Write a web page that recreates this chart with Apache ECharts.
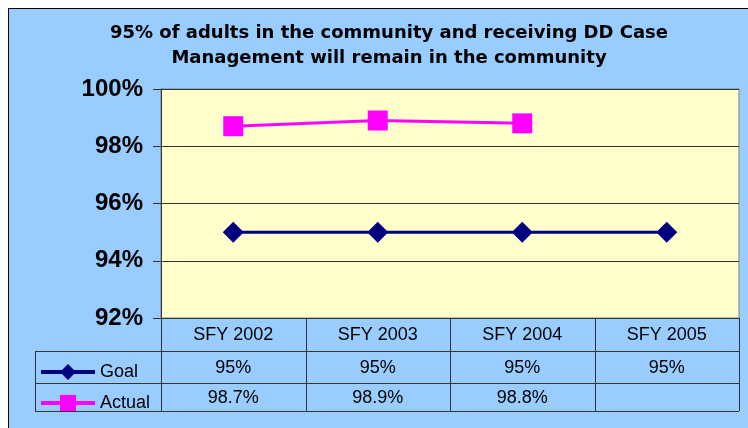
<!DOCTYPE html>
<html>
<head>
<meta charset="utf-8">
<script src="https://cdn.jsdelivr.net/npm/echarts@6/dist/echarts.min.js"></script>
<style>
  html, body { margin: 0; padding: 0; background: #fff; }
  #wrap { position: relative; width: 748px; height: 428px; overflow: hidden; }
  #bg { position: absolute; left: 8px; top: 8px; width: 760px; height: 440px;
        background: #99CCFF; border-left: 1px solid #000; border-top: 1px solid #000; }
  #main { position: absolute; left: 0; top: 0; width: 748px; height: 428px; }
</style>
</head>
<body>
<div id="wrap"><div id="bg"></div><div id="main"></div></div>
<script>
var chartDom = document.getElementById('main');
var myChart = echarts.init(chartDom);
var option;

const categories = ['SFY 2002', 'SFY 2003', 'SFY 2004', 'SFY 2005'];
const goal = [95, 95, 95, 95];
const actual = [98.7, 98.9, 98.8, null];
const yTicks = [92, 94, 96, 98, 100];

const font = 'Arial, "Liberation Sans", sans-serif';
const lineColor = '#333333';

// table rows below the plot
const rowLines = [351, 383, 411];
const tableLeft = 35;

option = {
  title: {
    text: '95% of adults in the community and receiving DD Case\nManagement will remain in the community',
    left: 384,
    textAlign: 'center',
    top: 16,
    textStyle: {
      fontFamily: '"DejaVu Sans", sans-serif',
      fontSize: 18,
      fontWeight: 'bold',
      color: '#000',
      lineHeight: 25
    }
  },
  legend: {
    orient: 'vertical',
    left: 39,
    top: 362,
    padding: 0,
    itemWidth: 54,
    itemHeight: 20,
    itemGap: 11,
    lineStyle: { width: 4 },
    textStyle: { fontFamily: font, fontSize: 18, lineHeight: 20, color: '#000' },
    data: ['Goal', 'Actual']
  },
  grid: {
    left: 161,
    top: 89,
    right: 9,
    bottom: 110,
    show: true,
    backgroundColor: '#FFFFCC',
    borderColor: '#808080',
    borderWidth: 1
  },
  xAxis: {
    type: 'category',
    data: categories,
    axisLine: { lineStyle: { color: lineColor, width: 1 } },
    axisTick: { show: false },
    axisLabel: { fontFamily: font, fontSize: 18, color: '#000', margin: 8 }
  },
  yAxis: {
    type: 'value',
    min: yTicks[0],
    max: yTicks[yTicks.length - 1],
    interval: 2,
    axisLine: { show: true, lineStyle: { color: lineColor, width: 1 } },
    axisTick: { show: true, length: 8, lineStyle: { color: lineColor } },
    axisLabel: {
      fontFamily: font, fontSize: 24, fontWeight: 'bold', color: '#000', margin: 18,
      formatter: '{value}%'
    },
    splitLine: { lineStyle: { color: lineColor, width: 1 } }
  },
  series: [
    {
      name: 'Goal',
      type: 'line',
      data: goal,
      symbol: 'diamond',
      symbolSize: 21,
      lineStyle: { color: '#000080', width: 3 },
      itemStyle: { color: '#000080' },
      animation: false
    },
    {
      name: 'Actual',
      type: 'line',
      data: actual,
      symbol: 'rect',
      symbolSize: 20,
      lineStyle: { color: '#FF00FF', width: 3 },
      itemStyle: { color: '#FF00FF' },
      animation: false
    }
  ]
};

option && myChart.setOption(option);

// data table drawn below the axis
const centers = categories.map(function (c) {
  return myChart.convertToPixel({ xAxisIndex: 0 }, c);
});
const band = centers[1] - centers[0];
const axisY = myChart.convertToPixel({ yAxisIndex: 0 }, yTicks[0]);
const plotRight = centers[centers.length - 1] + band / 2;
const elements = [];
function line(x1, y1, x2, y2) {
  elements.push({
    type: 'line',
    shape: { x1: x1, y1: y1, x2: x2, y2: y2 },
    style: { stroke: lineColor, lineWidth: 1 },
    silent: true
  });
}
centers.forEach(function (cx) {
  line(Math.round(cx - band / 2) + 0.5, axisY, Math.round(cx - band / 2) + 0.5, rowLines[2]);
});
line(Math.round(plotRight) + 0.5, axisY, Math.round(plotRight) + 0.5, rowLines[2]);
rowLines.forEach(function (y) {
  line(tableLeft, y + 0.5, plotRight, y + 0.5);
});
line(tableLeft + 0.5, rowLines[0], tableLeft + 0.5, rowLines[2]);

function cellText(vals, y) {
  vals.forEach(function (v, i) {
    if (v == null) return;
    elements.push({
      type: 'text',
      x: centers[i],
      y: y,
      style: {
        text: v + '%',
        font: '18px ' + font,
        fill: '#000',
        align: 'center',
        verticalAlign: 'middle'
      },
      silent: true
    });
  });
}
cellText(goal, (rowLines[0] + rowLines[1]) / 2 + 1);
cellText(actual, (rowLines[1] + rowLines[2]) / 2 + 1);

myChart.setOption({ graphic: { elements: elements } });
</script>
</body>
</html>
